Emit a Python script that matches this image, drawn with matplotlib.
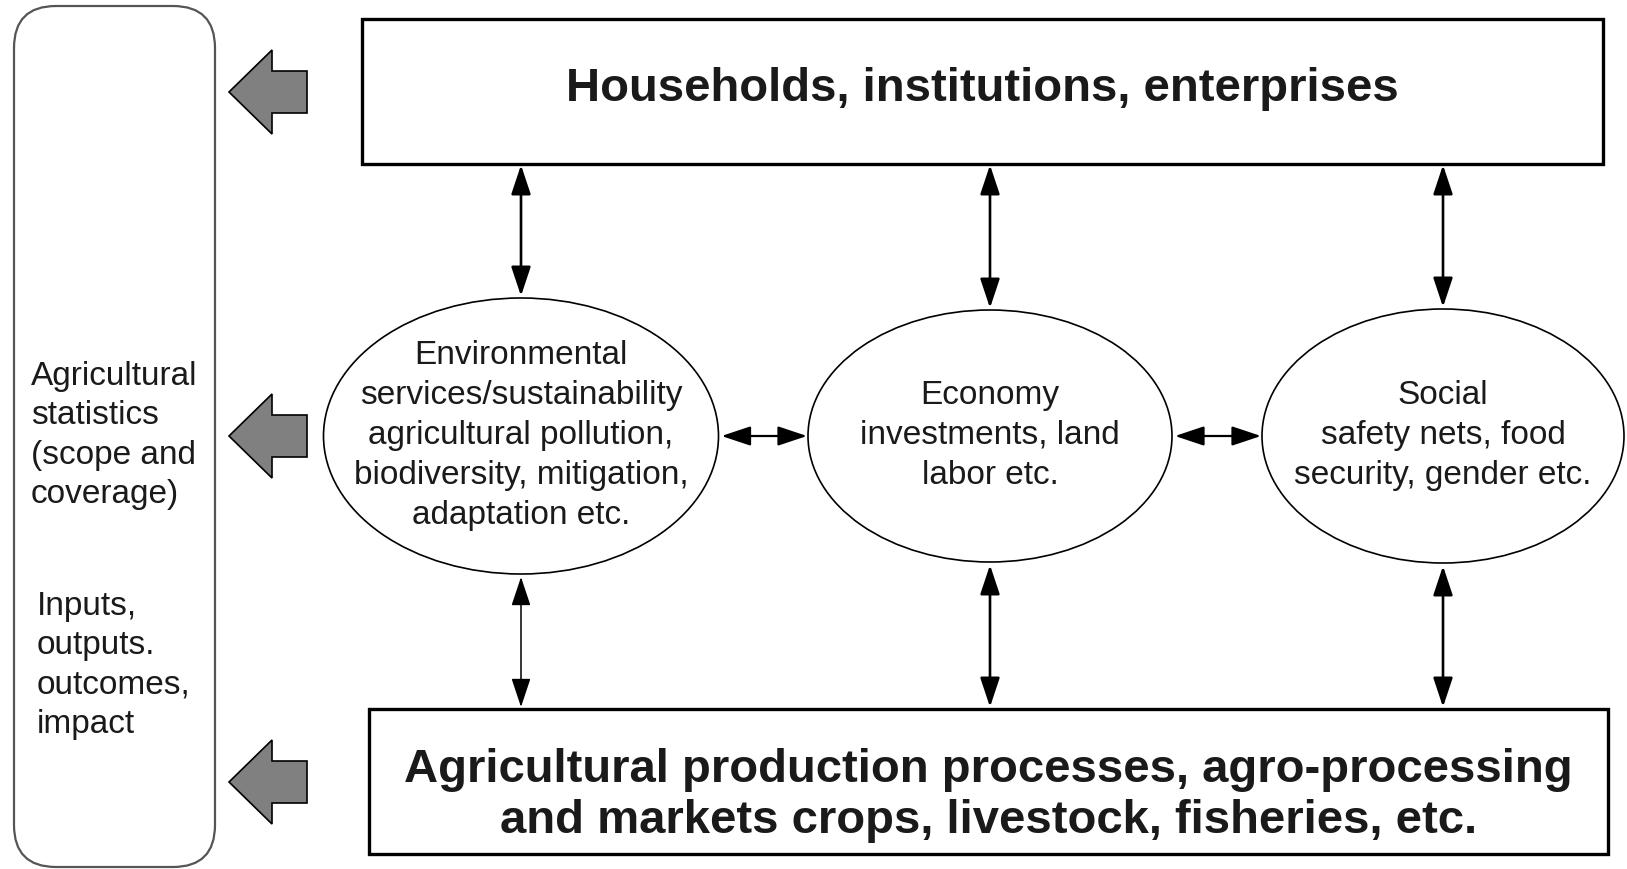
import matplotlib
matplotlib.use("Agg")
import matplotlib.pyplot as plt
from matplotlib.patches import Rectangle, Ellipse, FancyBboxPatch, Polygon
from matplotlib.patches import ArrowStyle

plt.rcParams['font.family'] = ['Liberation Sans', 'DejaVu Sans']

# Texts of the diagram
top_label = ["Households, institutions, enterprises"]
bottom_label = ["Agricultural production processes, agro-processing",
                "and markets crops, livestock, fisheries, etc."]
ellipse_labels = [
    ["Environmental", "services/sustainability", "agricultural pollution,",
     "biodiversity, mitigation,", "adaptation etc."],
    ["Economy", "investments, land", "labor etc."],
    ["Social", "safety nets, food", "security, gender etc."],
]
side_label_1 = ["Agricultural", "statistics", "(scope and", "coverage)"]
side_label_2 = ["Inputs,", "outputs.", "outcomes,", "impact"]

# Layout (pixel units, y grows downwards)
W, H = 1627, 870
top_box = (362, 20, 1603, 165)
bottom_box = (369, 710, 1608, 855)
ell_cx = [521, 990, 1443]
ell_w = [395, 364, 362]
ell_cy = 437
ell_h = [276, 252, 254]
block_arrow_y = [93, 437, 783]
lower_arrow_lw = [1.1, 1.9, 1.9]

fig = plt.figure(figsize=(W / 100, H / 100), dpi=100)
ax = fig.add_axes([0, 0, 1, 1])
ax.set_xlim(0, W)
ax.set_ylim(H, 0)
ax.axis('off')

ink = '#1a1a1a'


def lines(x, y0, step, rows, ha='center', **kw):
    # one text per row, y0 is the first baseline
    for i, r in enumerate(rows):
        ax.text(x, y0 + i * step, r, ha=ha, va='baseline', color=ink, **kw)


# left rounded panel
ax.add_patch(FancyBboxPatch((14 + 42, 7 + 42), 201 - 84, 861 - 84,
                            boxstyle="round,pad=42", fc='white', ec='#555555', lw=1.6))

lines(31, 385, 39.5, side_label_1, ha='left', fontsize=24)
lines(37, 615, 39.3, side_label_2, ha='left', fontsize=24)

# grey block arrows pointing to the panel
for cy in block_arrow_y:
    pts = [(229, cy), (272, cy - 42), (272, cy - 21), (307, cy - 21),
           (307, cy + 21), (272, cy + 21), (272, cy + 42)]
    ax.add_patch(Polygon(pts, closed=True, fc='#808080', ec='black', lw=1.2))

# top and bottom boxes
for (x0, y0, x1, y1) in [top_box, bottom_box]:
    ax.add_patch(Rectangle((x0, y0), x1 - x0, y1 - y0, fc='white', ec='black', lw=2.4))

lines((top_box[0] + top_box[2]) / 2, 101, 0, top_label, fontsize=34, fontweight='bold')
lines((bottom_box[0] + bottom_box[2]) / 2, 782, 51, bottom_label, fontsize=34,
      fontweight='bold')

# ellipses
for cx, w, h, lab in zip(ell_cx, ell_w, ell_h, ellipse_labels):
    ax.add_patch(Ellipse((cx, ell_cy), w, h, fc='white', ec='black', lw=1.2))
    first = ell_cy + 7 - (len(lab) - 1) / 2 * 40
    lines(cx, first, 40, lab, fontsize=24)

style = ArrowStyle('<|-|>', head_length=0.9, head_width=0.3)


def darrow(p0, p1, lw):
    ax.annotate('', xy=p1, xytext=p0,
                arrowprops=dict(arrowstyle=style, mutation_scale=20, lw=lw,
                                color='black', shrinkA=0, shrinkB=0))


# vertical links to the boxes
for i, (cx, h) in enumerate(zip(ell_cx, ell_h)):
    darrow((cx, top_box[3] + 1), (cx, ell_cy - h / 2 - 2), 1.9)
    darrow((cx, ell_cy + h / 2 + 3), (cx, bottom_box[1] - 2), lower_arrow_lw[i])

# horizontal links between ellipses
for i in range(2):
    xa = ell_cx[i] + ell_w[i] / 2 + 3
    xb = ell_cx[i + 1] - ell_w[i + 1] / 2 - 1
    darrow((xa, ell_cy), (xb, ell_cy), 1.6)

fig.savefig('out.png', dpi=100, facecolor='white')
